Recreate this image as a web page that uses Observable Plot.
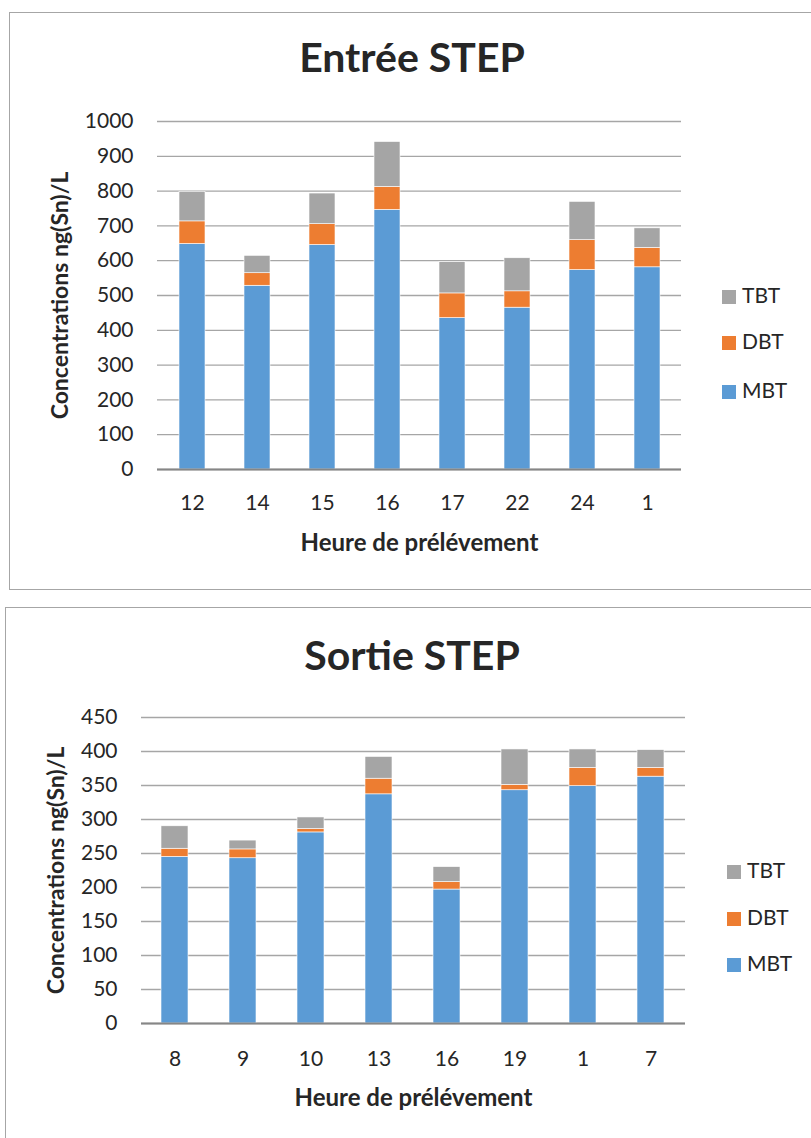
<!DOCTYPE html>
<html>
<head>
<meta charset="utf-8">
<script src="https://cdn.jsdelivr.net/npm/d3@7"></script>
<script src="https://cdn.jsdelivr.net/npm/@observablehq/plot@0.6"></script>
<style>
  html, body { margin: 0; padding: 0; background: #fff; }
  #page { position: relative; width: 811px; height: 1138px; overflow: hidden; font-family: Lato, "Open Sans", sans-serif; color: #262626; }
  .panel { position: absolute; border: 1.5px solid #a6a6a6; box-sizing: border-box; }
  .title { position: absolute; left: 0; width: 824px; text-align: center; font-weight: bold; font-size: 41px; line-height: 1; color: #262626; }
  .plot { position: absolute; left: 0; }
  .legend { position: absolute; font-size: 21px; color: #262626; }
  .legend .item { position: absolute; left: 0; white-space: nowrap; line-height: 1; }
  .legend .sw { display: inline-block; width: 14px; height: 14px; margin-right: 6px; vertical-align: -1px; }
</style>
</head>
<body>
<div id="page">
  <div class="panel" style="left:9px; top:12px; width:830px; height:578px;"></div>
  <div class="panel" style="left:5px; top:607px; width:830px; height:560px;"></div>
  <div class="title" style="top:36px;">Entrée STEP</div>
  <div class="title" style="top:634px;">Sortie STEP</div>
  <div id="plot1" class="plot" style="top:111px;"></div>
  <div id="plot2" class="plot" style="top:707px;"></div>
  <div id="legend1" class="legend" style="left:722px; top:0;"></div>
  <div id="legend2" class="legend" style="left:727px; top:0;"></div>
</div>
<script>
// ---- Data ----
const seriesNames = ["MBT", "DBT", "TBT"];
const seriesColors = ["#5b9bd5", "#ed7d31", "#a5a5a5"];

const entreeHours = ["12", "14", "15", "16", "17", "22", "24", "1"];
const entreeMBT = [648, 528, 645, 746, 435, 465, 573, 581];
const entreeDBT = [65, 36, 60, 66, 71, 47, 86, 56];
const entreeTBT = [85, 50, 88, 129, 90, 95, 110, 56];
const entreeTicks = [0, 100, 200, 300, 400, 500, 600, 700, 800, 900, 1000];

const sortieHours = ["8", "9", "10", "13", "16", "19", "1", "7"];
const sortieMBT = [245, 243, 281, 337, 197, 343, 349, 363];
const sortieDBT = [12, 13, 5, 23, 11, 8, 27, 13];
const sortieTBT = [33, 13, 17, 32, 22, 52, 27, 26];
const sortieTicks = [0, 50, 100, 150, 200, 250, 300, 350, 400, 450];

const yLabel = "Concentrations ng(Sn)/L";
const xLabel = "Heure de prélévement";

function rows(hours, mbt, dbt, tbt) {
  const out = [];
  hours.forEach((h, i) => {
    out.push({hour: h, series: "MBT", value: mbt[i]});
    out.push({hour: h, series: "DBT", value: dbt[i]});
    out.push({hour: h, series: "TBT", value: tbt[i]});
  });
  return out;
}

function chart({hours, data, ticks, yMax, marginLeft, marginRight, plotHeight, tickPadX, labelOffX, labelOffY}) {
  return Plot.plot({
    width: 700,
    height: 10 + plotHeight + 90,
    marginTop: 10,
    marginBottom: 90,
    marginLeft: marginLeft,
    marginRight: marginRight,
    style: {fontFamily: "Lato, 'Open Sans', sans-serif", fontSize: "21px", color: "#262626", background: "transparent", overflow: "visible"},
    x: {domain: hours, paddingInner: 0.6, paddingOuter: 0.3},
    y: {domain: [0, yMax]},
    color: {domain: seriesNames, range: seriesColors},
    marks: [
      Plot.gridY(ticks, {stroke: "#a6a6a6", strokeOpacity: 1, strokeWidth: 1.3}),
      Plot.barY(data, {x: "hour", y: "value", fill: "series", stroke: "#ffffff", strokeWidth: 0.6}),
      Plot.axisY(ticks, {tickSize: 0, tickPadding: 24, tickFormat: d => String(d), label: null}),
      Plot.axisX({tickSize: 0, tickPadding: tickPadX, label: null}),
      Plot.text([yLabel], {frameAnchor: "left", dx: labelOffY, rotate: -90, textAnchor: "middle", lineAnchor: "middle", fontWeight: "bold", fontSize: 23, fill: "#262626"}),
      Plot.text([xLabel], {frameAnchor: "bottom", dy: labelOffX, textAnchor: "middle", lineAnchor: "middle", fontWeight: "bold", fontSize: 24, fill: "#262626"}),
      Plot.ruleX([0], {frameAnchor: "left", stroke: "#868686", strokeWidth: 2}),
      Plot.ruleY([0], {stroke: "#868686", strokeWidth: 2})
    ]
  });
}

const p1 = chart({hours: entreeHours, data: rows(entreeHours, entreeMBT, entreeDBT, entreeTBT), ticks: entreeTicks, yMax: 1000, marginLeft: 157, marginRight: 19, plotHeight: 348, tickPadX: 26, labelOffX: 74, labelOffY: -97});
const p2 = chart({hours: sortieHours, data: rows(sortieHours, sortieMBT, sortieDBT, sortieTBT), ticks: sortieTicks, yMax: 450, marginLeft: 141, marginRight: 15, plotHeight: 306, tickPadX: 28, labelOffX: 75, labelOffY: -85});
document.getElementById("plot1").append(p1);
document.getElementById("plot2").append(p2);

function legend(el, centers) {
  const order = ["TBT", "DBT", "MBT"];
  order.forEach((name, i) => {
    const d = document.createElement("div");
    d.className = "item";
    d.style.top = (centers[i] - 10.5) + "px";
    const sw = document.createElement("span");
    sw.className = "sw";
    sw.style.background = seriesColors[seriesNames.indexOf(name)];
    d.append(sw, document.createTextNode(name));
    el.append(d);
  });
}
legend(document.getElementById("legend1"), [294, 340, 389]);
legend(document.getElementById("legend2"), [869, 916, 962]);
</script>
</body>
</html>
